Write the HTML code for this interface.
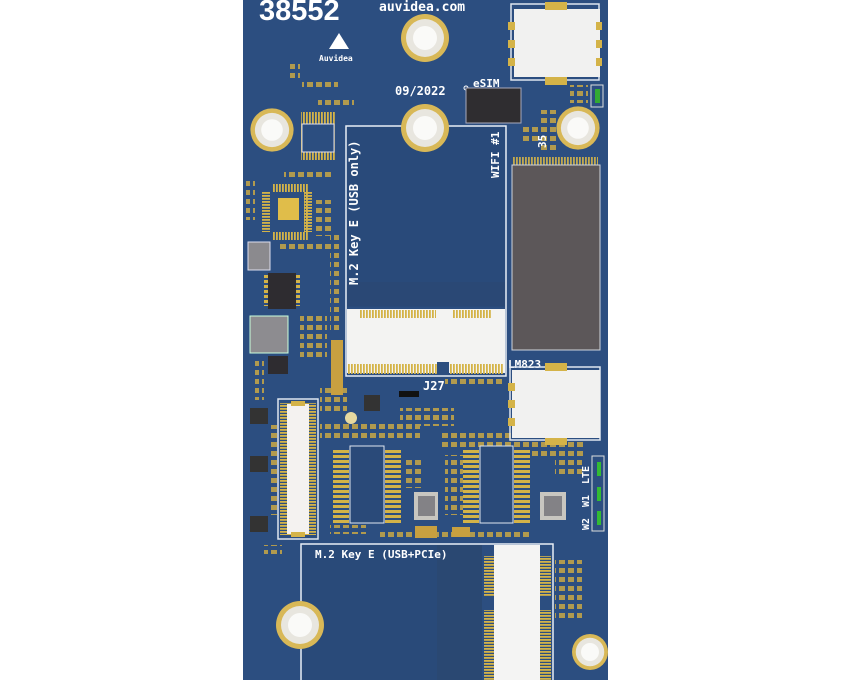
<!DOCTYPE html>
<html><head><meta charset="utf-8"><style>
html,body{margin:0;padding:0;background:#fff;width:850px;height:680px;overflow:hidden}
svg{display:block}
text{font-family:"DejaVu Sans Mono","Liberation Mono",monospace;font-weight:bold;fill:#fff}
</style></head><body>
<svg width="850" height="680" viewBox="0 0 850 680" xmlns="http://www.w3.org/2000/svg">
<defs>
<pattern id="pv" width="3" height="10" patternUnits="userSpaceOnUse"><rect width="1.8" height="10" fill="#d4b348"/></pattern>
<pattern id="ph" width="10" height="3" patternUnits="userSpaceOnUse"><rect width="10" height="1.8" fill="#d4b348"/></pattern>
<pattern id="ph5" width="10" height="5" patternUnits="userSpaceOnUse"><rect width="10" height="3" fill="#d4b348"/></pattern>
<pattern id="smd" width="9" height="9" patternUnits="userSpaceOnUse"><rect x="1" y="1" width="6" height="5" fill="#c9a846"/></pattern>
<g id="hole"><circle r="24" fill="#d8b857"/><circle r="19" fill="#e8e6df"/><circle r="12" fill="#fafaf8"/></g>
</defs>
<rect x="243" y="0" width="365" height="680" fill="#2c4e80"/>
<!-- scattered smd -->
<g opacity=".85">
<rect x="302" y="80" width="36" height="9" fill="url(#smd)"/>
<rect x="318" y="96" width="36" height="9" fill="url(#smd)"/>
<rect x="290" y="60" width="10" height="20" fill="url(#smd)"/>
<rect x="284" y="170" width="50" height="9" fill="url(#smd)"/>
<rect x="246" y="180" width="9" height="40" fill="url(#smd)"/>
<rect x="280" y="244" width="50" height="9" fill="url(#smd)"/>
<rect x="315" y="200" width="18" height="36" fill="url(#smd)"/>
<rect x="300" y="316" width="27" height="45" fill="url(#smd)"/>
<rect x="255" y="360" width="9" height="40" fill="url(#smd)"/>
<rect x="268" y="425" width="9" height="90" fill="url(#smd)"/>
<rect x="320" y="385" width="27" height="27" fill="url(#smd)"/>
<rect x="320" y="420" width="100" height="18" fill="url(#smd)"/>
<rect x="400" y="408" width="54" height="18" fill="url(#smd)"/>
<rect x="445" y="378" width="60" height="9" fill="url(#smd)"/>
<rect x="440" y="430" width="110" height="18" fill="url(#smd)"/>
<rect x="405" y="460" width="18" height="28" fill="url(#smd)"/>
<rect x="445" y="455" width="18" height="60" fill="url(#smd)"/>
<rect x="530" y="440" width="54" height="18" fill="url(#smd)"/>
<rect x="555" y="460" width="27" height="18" fill="url(#smd)"/>
<rect x="570" y="85" width="18" height="18" fill="url(#smd)"/>
<rect x="540" y="110" width="18" height="40" fill="url(#smd)"/>
<rect x="520" y="125" width="18" height="18" fill="url(#smd)"/>
<rect x="555" y="560" width="27" height="60" fill="url(#smd)"/>
<rect x="380" y="530" width="150" height="9" fill="url(#smd)"/>
<rect x="330" y="525" width="36" height="9" fill="url(#smd)"/>
<rect x="264" y="545" width="18" height="9" fill="url(#smd)"/>
<rect x="330" y="232" width="9" height="100" fill="url(#smd)"/>
</g>
<!-- texts -->
<text x="259" y="20" font-size="29" style="font-family:'Liberation Sans',sans-serif;font-weight:bold">38552</text>
<text x="379" y="11" font-size="13">auvidea.com</text>
<polygon points="339,33 329,49 349,49" fill="#fff"/>
<text x="319" y="61" font-size="8">Auvidea</text>
<text x="395" y="95" font-size="12">09/2022</text>
<text x="473" y="87" font-size="11">eSIM</text>
<circle cx="466" cy="88" r="2" fill="none" stroke="#fff"/>
<!-- top SIM -->
<rect x="511" y="4" width="88" height="76" fill="none" stroke="#dfe6ef" stroke-width="1.5"/>
<rect x="514" y="9" width="86" height="68" fill="#f1f1f0"/>
<rect x="545" y="2" width="22" height="8" fill="#d4b348"/>
<rect x="545" y="77" width="22" height="8" fill="#d4b348"/>
<rect x="508" y="22" width="7" height="8" fill="#d4b348"/><rect x="508" y="40" width="7" height="8" fill="#d4b348"/><rect x="508" y="58" width="7" height="8" fill="#d4b348"/>
<rect x="596" y="22" width="6" height="8" fill="#d4b348"/><rect x="596" y="40" width="6" height="8" fill="#d4b348"/><rect x="596" y="58" width="6" height="8" fill="#d4b348"/>
<rect x="591" y="85" width="12" height="22" fill="none" stroke="#ddd"/><rect x="595" y="89" width="5" height="14" fill="#3a3" />
<!-- eSIM -->
<rect x="466" y="88" width="55" height="35" fill="#2f2d30" stroke="#aab" stroke-width="1"/>
<!-- top left parts -->
<rect x="301" y="112" width="34" height="48" fill="url(#pv)"/>
<rect x="302" y="124" width="32" height="28" fill="#2c4e80" stroke="#dde" stroke-width="1"/>
<rect x="272" y="184" width="36" height="56" fill="url(#pv)"/>
<rect x="262" y="192" width="50" height="40" fill="url(#ph)"/>
<rect x="270" y="192" width="34" height="40" fill="#2c4e80"/>
<rect x="278" y="198" width="21" height="22" fill="#e0bd4a"/>
<rect x="248" y="242" width="22" height="28" fill="#8b8a8e" stroke="#dde"/>
<rect x="264" y="274" width="36" height="32" fill="url(#ph5)"/>
<rect x="268" y="273" width="28" height="36" fill="#2e2c30"/>
<rect x="250" y="316" width="38" height="37" fill="#8d8c90" stroke="#cfd"/>
<rect x="268" y="356" width="20" height="18" fill="#2e2c30"/>
<rect x="331" y="340" width="12" height="55" fill="#c8a040"/>
<!-- M.2 top -->
<rect x="346" y="126" width="160" height="250" fill="none" stroke="#e8eef5" stroke-width="1.5"/>
<rect x="347" y="127" width="158" height="180" fill="#294a7a"/>
<rect x="347" y="282" width="158" height="24" fill="#2a4875"/>
<rect x="347" y="309" width="158" height="64" fill="#f3f3f2"/>
<rect x="360" y="310" width="76" height="8" fill="url(#pv)"/><rect x="452" y="310" width="40" height="8" fill="url(#pv)"/>
<rect x="348" y="364" width="155" height="10" fill="url(#pv)"/>
<rect x="437" y="362" width="12" height="12" fill="#2c4e80"/>
<text x="0" y="0" font-size="12" transform="translate(358,285) rotate(-90)">M.2 Key E (USB only)</text>
<text x="0" y="0" font-size="11" transform="translate(499,178) rotate(-90)">WIFI #1</text>
<text x="0" y="0" font-size="11" transform="translate(546,148) rotate(-90)">35</text>
<text x="423" y="390" font-size="12">J27</text>
<!-- big module -->
<rect x="513" y="157" width="85" height="10" fill="url(#pv)" opacity=".9"/>
<rect x="512" y="165" width="88" height="185" fill="#5c5759" stroke="#cfd4dc"/>
<text x="508" y="368" font-size="11">LM823</text>
<!-- second SIM -->
<rect x="510" y="367" width="90" height="73" fill="none" stroke="#dfe6ef" stroke-width="1.5"/>
<rect x="512" y="370" width="88" height="68" fill="#f1f1f0"/>
<rect x="545" y="363" width="22" height="8" fill="#d4b348"/><rect x="545" y="438" width="22" height="7" fill="#d4b348"/>
<rect x="508" y="383" width="7" height="8" fill="#d4b348"/><rect x="508" y="400" width="7" height="8" fill="#d4b348"/><rect x="508" y="418" width="7" height="8" fill="#d4b348"/>
<!-- LEDs -->
<rect x="592" y="456" width="12" height="75" fill="none" stroke="#ddd"/>
<rect x="597" y="462" width="4" height="14" fill="#3b3"/><rect x="597" y="487" width="4" height="14" fill="#3b3"/><rect x="597" y="511" width="4" height="14" fill="#3b3"/>
<text x="0" y="0" font-size="10" transform="translate(589,484) rotate(-90)">LTE</text>
<text x="0" y="0" font-size="10" transform="translate(589,507) rotate(-90)">W1</text>
<text x="0" y="0" font-size="10" transform="translate(589,530) rotate(-90)">W2</text>
<!-- left connector -->
<rect x="278" y="399" width="40" height="140" fill="none" stroke="#dfe6ef" stroke-width="1.5"/>
<rect x="280" y="403" width="36" height="132" fill="url(#ph)"/>
<rect x="287" y="404" width="22" height="130" fill="#f4f2f0"/>
<rect x="291" y="401" width="14" height="5" fill="#d4b348"/><rect x="291" y="532" width="14" height="5" fill="#d4b348"/>
<rect x="250" y="408" width="18" height="16" fill="#333"/><rect x="250" y="456" width="18" height="16" fill="#333"/><rect x="250" y="516" width="18" height="16" fill="#333"/>
<!-- mid chips -->
<rect x="333" y="448" width="16" height="75" fill="url(#ph5)"/>
<rect x="385" y="448" width="16" height="75" fill="url(#ph5)"/>
<rect x="350" y="446" width="34" height="77" fill="#2a4a79" stroke="#dfe6ef"/>
<rect x="463" y="448" width="16" height="75" fill="url(#ph5)"/>
<rect x="514" y="448" width="16" height="75" fill="url(#ph5)"/>
<rect x="480" y="446" width="33" height="77" fill="#2a4a79" stroke="#dfe6ef"/>
<rect x="414" y="492" width="24" height="28" fill="#c8c6c0"/><rect x="418" y="496" width="17" height="20" fill="#838286"/>
<rect x="540" y="492" width="26" height="28" fill="#c8c6c0"/><rect x="544" y="496" width="18" height="20" fill="#838286"/>
<circle cx="351" cy="418" r="6" fill="#e6d9a0"/>
<rect x="364" y="395" width="16" height="16" fill="#333"/>
<rect x="399" y="391" width="20" height="6" fill="#111"/>
<rect x="415" y="526" width="22" height="12" fill="#c8a040"/><rect x="452" y="527" width="18" height="10" fill="#c8a040"/>
<!-- bottom M.2 -->
<rect x="301" y="544" width="252" height="140" fill="none" stroke="#e8eef5" stroke-width="1.5"/>
<rect x="302" y="545" width="180" height="135" fill="#294a79"/>
<rect x="437" y="545" width="45" height="135" fill="#2a4872"/>
<rect x="484" y="556" width="10" height="124" fill="url(#ph)"/>
<rect x="540" y="556" width="11" height="124" fill="url(#ph)"/>
<rect x="484" y="596" width="10" height="14" fill="#2c4e80"/><rect x="540" y="596" width="11" height="14" fill="#2c4e80"/>
<rect x="494" y="545" width="46" height="135" fill="#f4f4f3"/>
<text x="315" y="558" font-size="11">M.2 Key E (USB+PCIe)</text>
<!-- holes on top -->
<use href="#hole" x="425" y="38"/>
<use href="#hole" x="425" y="128"/>
<g transform="translate(272,130) scale(0.9)"><use href="#hole"/></g>
<g transform="translate(578,128) scale(0.9)"><use href="#hole"/></g>
<use href="#hole" x="300" y="625"/>
<g transform="translate(590,652) scale(0.75)"><use href="#hole"/></g>
</svg>
</body></html>
